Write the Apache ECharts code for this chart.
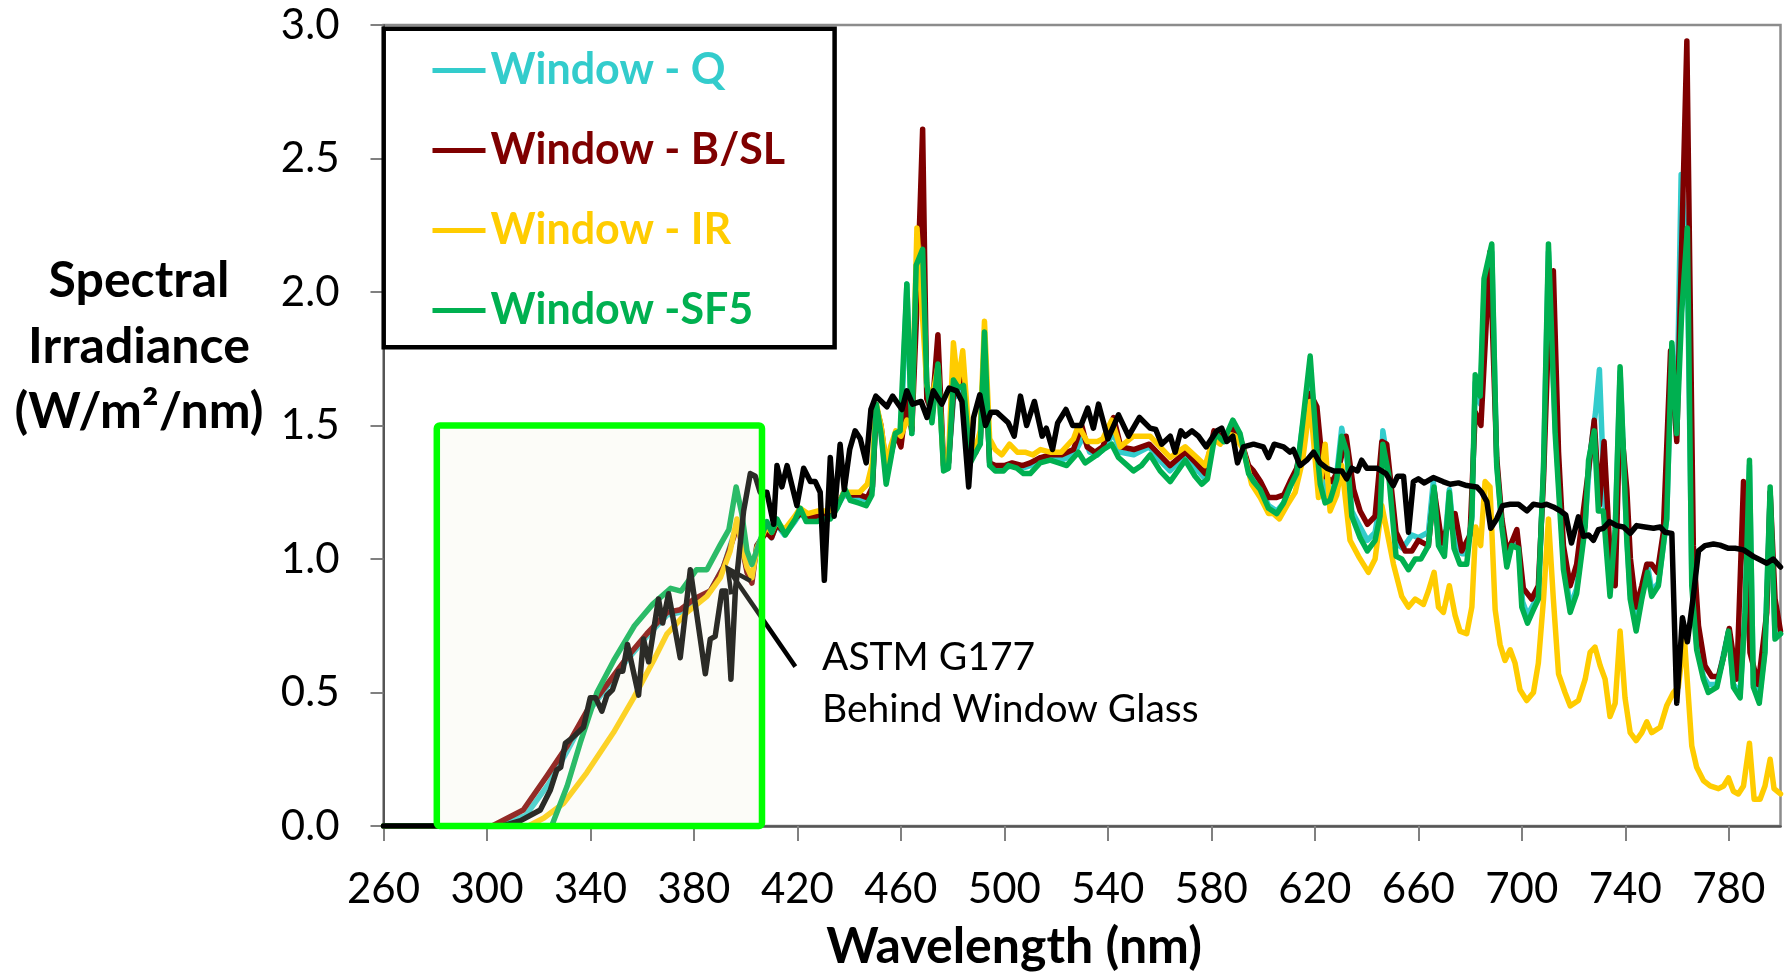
<!DOCTYPE html>
<html>
<head>
<meta charset="utf-8">
<script src="https://cdn.jsdelivr.net/npm/echarts@6/dist/echarts.min.js"></script>
<style>
  html, body { margin: 0; padding: 0; background: #ffffff; }
  #chart { width: 1785px; height: 976px; }
</style>
</head>
<body>
<div id="chart"></div>
<script>
// Spectral irradiance (W/m²/nm) versus wavelength (nm), pairs of [nm, value]

const windowQ = [[260,0],[304,0],[315,0.04],[324,0.16],[331,0.28],[338.6,0.42],[346.4,0.52],[354,0.62],[361.8,0.71],[369.6,0.79],[374.7,0.80],[380,0.84],[386.3,0.88],[391.4,0.97],[395.3,1.09],[397,1.14],[400.5,0.96],[402.4,0.92],[404.3,1.05],[408,1.11],[410,1.08],[412,1.13],[415,1.09],[419,1.14],[421,1.17],[424,1.15],[428,1.15],[432,1.16],[435,1.19],[438,1.24],[441,1.23],[444,1.23],[447,1.22],[449,1.26],[450.5,1.57],[452.3,1.48],[454.3,1.32],[456,1.38],[458,1.47],[460,1.46],[462.3,2.03],[464.2,1.47],[466,2.08],[468.4,2.14],[470,1.62],[472,1.53],[474.3,1.72],[476.5,1.34],[478.4,1.36],[480.3,1.60],[482,1.62],[484,1.64],[486.8,1.40],[489,1.42],[490.7,1.45],[492.3,1.82],[494.3,1.35],[496.5,1.34],[500,1.34],[503,1.35],[507,1.34],[510,1.35],[514,1.37],[517.7,1.38],[522,1.37],[526.7,1.39],[530.6,1.46],[533,1.40],[536,1.39],[538,1.41],[542.2,1.47],[545,1.40],[550,1.39],[556,1.42],[560,1.37],[564,1.33],[570,1.39],[574,1.34],[577.6,1.30],[581,1.47],[585,1.44],[588.3,1.50],[591,1.46],[594.4,1.34],[596.3,1.31],[599,1.27],[602.1,1.20],[605.3,1.18],[608,1.21],[610.4,1.27],[613,1.33],[615.3,1.50],[618.2,1.70],[620.8,1.45],[622.5,1.32],[624,1.24],[626.6,1.24],[628.5,1.32],[630.4,1.49],[632.4,1.38],[634.3,1.18],[637.5,1.12],[640.3,1.07],[643.3,1.10],[645,1.20],[646.3,1.48],[648.5,1.34],[651.4,1.06],[654,1.04],[657.5,1.09],[660,1.08],[663.9,1.10],[665.8,1.29],[667.8,1.08],[670.1,1.04],[672,1.26],[673.8,1.08],[676.8,1.02],[678.7,1.02],[680.7,1.15],[682,1.66],[684,1.58],[685.4,2.00],[688.4,2.15],[690.3,1.36],[692.3,1.13],[694.2,0.99],[696.1,1.06],[698.7,1.05],[700.3,0.84],[702.2,0.79],[704.5,0.83],[706.4,0.87],[708.4,1.33],[710.3,2.15],[712.9,1.50],[716.1,1.00],[718.7,0.82],[721.2,0.89],[724.5,1.14],[726.5,1.40],[728.5,1.55],[730,1.71],[731.8,1.25],[734.1,0.88],[736.1,1.10],[738,1.70],[740.6,1.08],[741.9,0.87],[744.2,0.76],[746.4,0.86],[748.6,0.98],[750.2,0.88],[752.8,0.91],[754.7,1.05],[756,1.15],[758,1.80],[759.8,1.46],[761.6,2.44],[764,2.10],[765.7,0.95],[767.6,0.68],[770.2,0.56],[772.1,0.53],[775.4,0.53],[777.9,0.64],[779.9,0.73],[781.8,0.53],[784.4,0.50],[786.3,0.80],[788,1.35],[789.5,0.53],[791.8,0.48],[794,0.66],[796,1.25],[797.9,0.71],[800,0.72]];

const windowBSL = [[260,0],[302,0],[314,0.06],[323,0.185],[331,0.30],[338.6,0.43],[346.4,0.53],[354,0.63],[361.8,0.72],[369.6,0.80],[374.7,0.81],[380,0.85],[386.3,0.88],[391.4,0.97],[395.3,1.08],[397,1.13],[400.5,0.95],[402.4,0.91],[404.3,1.05],[408,1.10],[410,1.08],[412,1.13],[415,1.10],[419,1.15],[421,1.17],[424,1.16],[428,1.16],[432,1.17],[435,1.19],[438,1.25],[441,1.24],[444,1.24],[447,1.23],[449,1.27],[450.5,1.57],[452.3,1.50],[454.3,1.35],[456,1.39],[458,1.47],[460,1.42],[462.3,1.60],[464.2,1.48],[466,1.90],[468.4,2.61],[470,1.60],[472,1.55],[474.3,1.84],[476.5,1.35],[478.4,1.36],[480.3,1.62],[482,1.65],[483.6,1.71],[486.8,1.38],[489,1.40],[490.7,1.45],[492.3,1.80],[494.3,1.36],[496.5,1.35],[500,1.35],[503,1.36],[507,1.35],[510,1.36],[514,1.38],[517.7,1.39],[522,1.39],[526.7,1.41],[529.9,1.50],[532,1.42],[535,1.40],[538,1.42],[542.2,1.53],[545,1.42],[550,1.41],[556,1.43],[560,1.39],[564,1.35],[570,1.40],[574,1.36],[577.6,1.32],[581,1.48],[585,1.45],[588.3,1.49],[591,1.46],[594.4,1.35],[596.3,1.33],[599,1.29],[602.1,1.23],[605,1.23],[608,1.24],[610.4,1.29],[613,1.34],[615.3,1.45],[618.2,1.62],[620.8,1.57],[622.5,1.40],[624,1.31],[626.6,1.29],[629,1.33],[632.1,1.46],[635,1.26],[637.5,1.18],[640.3,1.13],[643.3,1.16],[645.9,1.44],[647.8,1.43],[651.4,1.10],[654.9,1.03],[657.5,1.03],[660,1.07],[663.9,1.05],[666.1,1.26],[669.1,1.06],[672,1.14],[674.2,1.17],[676.8,1.03],[680,1.09],[682,1.55],[684.2,1.50],[687.7,2.15],[690.3,1.38],[692.3,1.15],[694.2,1.03],[696,1.06],[698.1,1.11],[700.6,0.89],[703.8,0.85],[706.4,0.90],[708.4,1.30],[710.5,1.90],[712.2,2.08],[714.2,1.40],[716.1,1.05],[718.7,0.90],[721.2,0.98],[723.8,1.18],[726,1.35],[728,1.52],[730,1.20],[731.8,1.44],[734.1,1.02],[736.1,0.90],[738,1.55],[740.6,1.26],[742,1.00],[744.2,0.82],[746.4,0.90],[748.3,0.98],[750.2,0.98],[752.4,0.95],[754.7,1.10],[757.5,1.78],[759.9,1.44],[763.8,2.94],[766.3,1.05],[768.3,0.75],[770.8,0.60],[773.4,0.56],[776,0.56],[777.9,0.63],[780.2,0.74],[783.1,0.55],[785.7,1.29],[788.2,0.65],[791.4,0.53],[794.7,0.80],[796,1.25],[797.9,0.85],[800,0.73]];

const windowIR = [[260,0],[316,0],[322,0.03],[329.6,0.085],[338.6,0.20],[348.9,0.35],[356.7,0.48],[364.4,0.62],[369.6,0.72],[377.3,0.80],[385,0.86],[390.2,0.93],[394,1.03],[396.6,1.15],[398.5,1.05],[400.5,0.97],[402.4,0.93],[404.3,1.04],[408,1.12],[410,1.10],[412,1.14],[415,1.11],[419,1.16],[421,1.19],[424,1.17],[428,1.18],[432,1.18],[435,1.19],[438,1.25],[441,1.25],[444,1.25],[447,1.28],[449,1.36],[450.5,1.58],[452.3,1.50],[454.3,1.36],[456,1.42],[458,1.48],[460,1.46],[462.3,1.52],[464.2,1.50],[466.2,2.24],[468.4,1.90],[470,1.65],[472,1.60],[474.3,1.72],[476.5,1.35],[478.4,1.38],[480.3,1.81],[482,1.65],[483.9,1.78],[486.8,1.40],[489,1.42],[490.7,1.48],[492.3,1.89],[494.3,1.45],[496.5,1.41],[499,1.39],[502,1.43],[505,1.40],[508,1.40],[511,1.39],[514,1.41],[517.7,1.40],[522,1.40],[526.7,1.45],[528.6,1.50],[532,1.44],[536,1.44],[538,1.45],[541.5,1.52],[544.75,1.42],[549.9,1.46],[556.3,1.46],[560.2,1.42],[564.1,1.38],[569.9,1.42],[574.4,1.38],[577.6,1.35],[580.8,1.45],[583.4,1.43],[586,1.47],[589.2,1.46],[592.4,1.41],[595.6,1.28],[598.9,1.23],[602.1,1.17],[604,1.17],[606.3,1.15],[609.2,1.20],[612.4,1.25],[615.3,1.37],[618.2,1.59],[621.4,1.23],[624,1.43],[625.9,1.18],[628.5,1.24],[630.4,1.35],[633.6,1.07],[636.9,1.01],[640.7,0.95],[643.3,1.00],[645.9,1.20],[650.4,0.98],[653.6,0.86],[656.2,0.82],[658.8,0.85],[662,0.83],[663.9,0.88],[666.1,0.95],[667.8,0.82],[669.7,0.80],[672,0.90],[674.2,0.79],[676.1,0.73],[678.7,0.72],[680.7,0.82],[682.2,1.12],[684.1,1.05],[685.8,1.29],[687.7,1.27],[689.7,0.81],[691.6,0.68],[693.5,0.62],[695.5,0.66],[697.4,0.61],[699.3,0.51],[701.9,0.47],[704.5,0.50],[706.4,0.61],[708.4,0.85],[710.3,1.15],[712.2,0.85],[714.2,0.57],[716.7,0.50],[718.7,0.45],[721.9,0.47],[724.5,0.55],[726.4,0.65],[728.3,0.67],[730.3,0.60],[732.2,0.55],[734.1,0.41],[736.1,0.46],[738,0.73],[739.9,0.48],[741.9,0.35],[744.2,0.32],[746.4,0.35],[748.3,0.39],[750.2,0.35],[753.5,0.37],[756,0.45],[758.6,0.50],[760.5,0.52],[762.8,0.71],[765.7,0.30],[767.6,0.22],[770.2,0.17],[772.8,0.15],[776,0.14],[778,0.15],[779.9,0.18],[781.8,0.13],[783.7,0.12],[785.7,0.15],[788,0.31],[789.8,0.10],[792.1,0.10],[794,0.15],[796,0.25],[797.5,0.14],[800,0.12]];

const windowSF5 = [[260,0],[325,0],[331,0.15],[336,0.31],[342.5,0.50],[349,0.62],[357,0.75],[364,0.83],[371,0.89],[375,0.88],[381,0.96],[385,0.96],[390,1.05],[393.5,1.11],[396.3,1.27],[398.5,1.17],[400.5,1.03],[402.4,0.98],[405.6,1.07],[408.2,1.14],[410.1,1.10],[412.1,1.15],[415.3,1.09],[419.2,1.15],[421.1,1.19],[423.4,1.14],[427.5,1.14],[430,1.15],[432.7,1.15],[435.3,1.19],[438.5,1.26],[440.4,1.22],[443.6,1.21],[446.6,1.20],[448.8,1.24],[450.5,1.58],[452.3,1.47],[454.3,1.28],[456,1.37],[457.8,1.47],[459.7,1.48],[462.3,2.03],[464.2,1.47],[465.9,2.10],[468.4,2.16],[470,1.66],[472,1.51],[474.3,1.73],[476.5,1.33],[478.4,1.34],[480.3,1.67],[482.3,1.64],[484.2,1.65],[486.8,1.36],[489,1.40],[490.7,1.43],[492.3,1.85],[494.3,1.35],[496.5,1.33],[499.7,1.33],[501.6,1.35],[504.8,1.34],[507.4,1.32],[510,1.32],[513.8,1.36],[517.7,1.37],[521,1.36],[524.1,1.35],[528.6,1.40],[531.2,1.36],[535.7,1.39],[538.3,1.41],[541.5,1.43],[544.1,1.38],[549.9,1.33],[553,1.35],[556.3,1.39],[560.2,1.33],[564.1,1.29],[569.9,1.37],[573.7,1.31],[576.3,1.28],[578.5,1.30],[581.5,1.47],[584.7,1.44],[588.3,1.52],[591.1,1.47],[594.4,1.32],[596.3,1.29],[598.9,1.26],[602.1,1.19],[605.3,1.17],[607.9,1.21],[610.4,1.27],[613,1.32],[615.3,1.51],[618.2,1.76],[620.8,1.41],[622.1,1.28],[624,1.21],[625.9,1.22],[628.5,1.30],[630.4,1.46],[632.4,1.40],[634.3,1.16],[637.5,1.08],[640.3,1.03],[643.3,1.07],[645.2,1.16],[646.3,1.43],[648.5,1.32],[651.4,1.01],[653.6,1.00],[656.2,0.96],[658.8,1.00],[661,1.00],[663.9,1.05],[666.1,1.27],[667.8,1.05],[670.1,1.01],[672,1.25],[673.8,1.04],[676.1,0.98],[678.7,0.98],[680.7,1.16],[682,1.69],[683.9,1.61],[685.4,2.05],[688.4,2.18],[690.3,1.35],[692.3,1.12],[694.2,0.97],[696.1,1.05],[698.7,1.04],[700,0.82],[702.2,0.76],[704.5,0.81],[706.4,0.85],[708.4,1.35],[710.3,2.18],[712.9,1.47],[716.1,0.96],[718.7,0.80],[721.2,0.87],[724.5,1.12],[725.8,1.37],[728,1.48],[729.6,1.18],[731.5,1.18],[734.1,0.86],[736.1,1.11],[738,1.72],[740.6,1.07],[741.9,0.85],[744.2,0.73],[746.4,0.85],[748.6,0.95],[750.2,0.86],[752.8,0.90],[754.7,1.05],[756,1.15],[758,1.81],[759.9,1.47],[761.8,1.92],[764,2.24],[765.7,0.90],[767.6,0.66],[770.2,0.55],[772.1,0.50],[775.4,0.52],[777.9,0.63],[779.9,0.73],[781.8,0.52],[784.4,0.48],[786.3,0.80],[788,1.37],[789.5,0.52],[791.8,0.46],[794,0.65],[796,1.27],[797.9,0.70],[800,0.72]];

const astmG177 = [[260,0],[306,0],[313,0.02],[320.6,0.06],[324.5,0.135],[327,0.21],[328.5,0.22],[330.3,0.31],[333,0.33],[337.3,0.37],[339.9,0.48],[342,0.48],[344.4,0.43],[346.4,0.49],[348.5,0.51],[350.9,0.58],[352.5,0.58],[354.3,0.68],[358.6,0.49],[360.5,0.70],[362.5,0.615],[366.3,0.85],[367.9,0.76],[370.2,0.87],[374.7,0.63],[378.6,0.96],[384.4,0.57],[386.3,0.70],[388.2,0.71],[390.8,0.88],[392.3,0.88],[394.3,0.55],[396,0.88],[399.2,1.18],[401.8,1.32],[403.7,1.31],[405.6,1.25],[408.2,1.25],[410.8,1.13],[412.1,1.35],[414,1.27],[416,1.35],[419.8,1.20],[422.4,1.34],[425,1.29],[426.9,1.29],[428.8,1.25],[430.4,0.92],[432.7,1.38],[434.2,1.16],[436.5,1.43],[438.1,1.26],[440.2,1.41],[442.3,1.48],[444.3,1.45],[446.6,1.36],[448.4,1.56],[450.3,1.61],[454.6,1.57],[456.8,1.61],[460.4,1.56],[462.3,1.63],[464.5,1.58],[467.8,1.59],[470.1,1.53],[472.5,1.63],[475.8,1.58],[478.6,1.64],[481.5,1.63],[483.6,1.59],[486.2,1.27],[488.1,1.53],[490.5,1.615],[492.7,1.50],[494.8,1.55],[497,1.55],[499.3,1.53],[501.5,1.51],[503.8,1.46],[506.2,1.61],[508.6,1.50],[511.6,1.59],[514.6,1.46],[516.2,1.49],[518.6,1.41],[520.6,1.51],[523.8,1.56],[526.4,1.50],[529.6,1.50],[532.2,1.565],[534.4,1.49],[536.4,1.58],[540,1.45],[544.1,1.54],[548,1.46],[552.2,1.53],[556.3,1.49],[558.5,1.485],[560.8,1.43],[564.1,1.46],[566,1.40],[568.2,1.48],[569.9,1.46],[572.5,1.48],[575,1.46],[578,1.42],[582.1,1.48],[584,1.49],[586,1.44],[588.3,1.46],[590.1,1.36],[592.4,1.42],[596.3,1.43],[600.1,1.42],[602.1,1.38],[604.3,1.43],[607.9,1.42],[610.4,1.40],[611.7,1.41],[614.3,1.35],[616.9,1.37],[619.5,1.40],[622,1.36],[624.6,1.34],[627.2,1.33],[630.4,1.33],[632.3,1.30],[634.3,1.34],[636.5,1.33],[638.1,1.37],[640.1,1.34],[644,1.34],[647.5,1.32],[650.3,1.275],[652,1.31],[654.3,1.31],[656.2,1.10],[658.1,1.29],[660,1.30],[662.3,1.285],[665.8,1.305],[669.5,1.29],[672.3,1.28],[675.5,1.285],[678.7,1.275],[682.6,1.27],[684.5,1.25],[686.5,1.215],[688,1.115],[690.3,1.15],[692.6,1.20],[695.5,1.205],[698.7,1.205],[702,1.18],[704.5,1.205],[707.7,1.20],[709.6,1.205],[712.2,1.195],[715.2,1.178],[717,1.165],[719.2,1.06],[721.9,1.158],[723.8,1.085],[725.8,1.09],[727.7,1.07],[729.6,1.11],[731.5,1.115],[733.9,1.14],[736.7,1.125],[739.3,1.12],[741.9,1.096],[744.4,1.125],[747.6,1.12],[750.9,1.115],[753.5,1.12],[755.4,1.10],[758,1.096],[759.9,0.46],[762.1,0.78],[764,0.69],[766.3,0.86],[768.3,1.03],[770.8,1.05],[774.1,1.056],[776.6,1.052],[779.9,1.04],[782.5,1.04],[785.7,1.034],[789.5,1.01],[794.7,0.984],[797.2,1.00],[800,0.97]];

// Legend / series names and axis ticks
const seriesNames = ['Window - Q', 'Window - B/SL', 'Window - IR', 'Window -SF5'];
const seriesColors = ['#33CCCC', '#7F0000', '#FFCC00', '#00B050'];
const xTickStart = 260, xTickEnd = 800, xTickStep = 40;
const yTickStart = 0, yTickEnd = 3, yTickStep = 0.5;

// Highlighted UV band and the annotation arrow, in data units
const uvBand = { x0: 280.6, x1: 406.3, y0: 0, y1: 1.5 };
const arrowTail = [419.2, 0.597];
const arrowTip = [393.1, 0.964];

const FONT = 'Lato, "Open Sans", sans-serif';

const lampSeries = [windowQ, windowBSL, windowIR, windowSF5].map((d, i) => ({
  name: seriesNames[i],
  type: 'line',
  data: d,
  showSymbol: false,
  symbol: 'none',
  z: 2 + i * 0.1,
  lineStyle: { color: seriesColors[i], width: 5.5, join: 'round', cap: 'round' },
  itemStyle: { color: seriesColors[i] },
  animation: false
}));

const option = {
  animation: false,
  backgroundColor: '#ffffff',
  textStyle: { fontFamily: FONT },
  grid: {
    left: 383.5, right: 4.5, top: 25, bottom: 150,
    show: true, borderColor: '#8c8c8c', borderWidth: 2.5,
    containLabel: false, outerBoundsMode: 'none'
  },
  legend: {
    orient: 'vertical',
    left: 427.5, top: 44,
    icon: 'rect',
    itemWidth: 53, itemHeight: 5,
    itemGap: 37,
    selectedMode: false,
    textStyle: { fontFamily: FONT, fontSize: 43, fontWeight: 'bold', lineHeight: 43 },
    data: seriesNames.map((n, i) => ({ name: n, textStyle: { color: seriesColors[i] } }))
  },
  xAxis: {
    type: 'value',
    min: xTickStart, max: xTickEnd, interval: xTickStep,
    splitLine: { show: false },
    axisLine: { show: true, onZero: false, lineStyle: { color: '#555555', width: 2.5 } },
    axisTick: { show: true, inside: false, length: 15, lineStyle: { color: '#808080', width: 2 } },
    axisLabel: { showMaxLabel: false, margin: 42, color: '#000', fontSize: 42, fontFamily: FONT }
  },
  yAxis: {
    type: 'value',
    min: yTickStart, max: yTickEnd, interval: yTickStep,
    splitLine: { show: false },
    axisLine: { show: true, lineStyle: { color: '#555555', width: 2 } },
    axisTick: { show: true, inside: false, length: 13, lineStyle: { color: '#808080', width: 2 } },
    axisLabel: { margin: 44, color: '#000', fontSize: 42, fontFamily: FONT,
                 formatter: v => v.toFixed(1) }
  },
  series: lampSeries.concat([{
    name: 'ASTM G177 Behind Window Glass',
    type: 'line',
    data: astmG177,
    showSymbol: false,
    symbol: 'none',
    z: 3,
    lineStyle: { color: '#000000', width: 5.5, join: 'round', cap: 'round' },
    itemStyle: { color: '#000000' },
    animation: false
  }])
};

const chart = echarts.init(document.getElementById('chart'), null, { renderer: 'canvas' });
chart.setOption(option);

// Annotation shapes placed through the chart's own coordinate conversion
const toPx = (pt) => chart.convertToPixel({ gridIndex: 0 }, pt);
const bTL = toPx([uvBand.x0, uvBand.y1]);
const bBR = toPx([uvBand.x1, uvBand.y0]);
const tip = toPx(arrowTip);
const tail = toPx(arrowTail);
const dx = tail[0] - tip[0], dy = tail[1] - tip[1];
const len = Math.hypot(dx, dy);
const ux = dx / len, uy = dy / len;
const wing = (ang) => {
  const c = Math.cos(ang), s = Math.sin(ang);
  return [tip[0] + 26 * (ux * c - uy * s), tip[1] + 26 * (ux * s + uy * c)];
};
const a = 27 * Math.PI / 180;

const textStyle = (text, font, align) => ({
  text, font, fill: '#000000',
  textAlign: align, textVerticalAlign: 'middle', align, verticalAlign: 'middle'
});

chart.setOption({
  graphic: [
    // legend frame
    { type: 'rect', z: 120, silent: true,
      shape: { x: 383.7, y: 28.8, width: 450.9, height: 318.4 },
      style: { fill: 'rgba(255,255,255,0)', stroke: '#000000', lineWidth: 4.5 } },
    // pointer from the label to the reference spectrum
    { type: 'polyline', z: 50, silent: true,
      shape: { points: [tail, tip] },
      style: { stroke: '#000000', lineWidth: 4.5, fill: null, lineCap: 'butt' } },
    { type: 'polyline', z: 50, silent: true,
      shape: { points: [wing(a), tip, wing(-a)] },
      style: { stroke: '#000000', lineWidth: 4.5, fill: null, lineJoin: 'miter' } },
    // UV band highlight box
    { type: 'rect', z: 100, silent: true,
      shape: { x: bTL[0], y: bTL[1], width: bBR[0] - bTL[0], height: bBR[1] - bTL[1], r: 3 },
      style: { fill: 'rgba(240,240,215,0.18)', stroke: '#00FF00', lineWidth: 6.5 } },
    // annotation label
    { type: 'text', z: 110, silent: true, x: 822, y: 657, style: textStyle('ASTM G177', '39px ' + FONT, 'left') },
    { type: 'text', z: 110, silent: true, x: 822, y: 709, style: textStyle('Behind Window Glass', '39px ' + FONT, 'left') },
    // axis titles
    { type: 'text', z: 110, silent: true, x: 1014, y: 947, style: textStyle('Wavelength (nm)', 'bold 50px ' + FONT, 'center') },
    { type: 'text', z: 110, silent: true, x: 139, y: 281, style: textStyle('Spectral', 'bold 50px ' + FONT, 'center') },
    { type: 'text', z: 110, silent: true, x: 139, y: 347, style: textStyle('Irradiance', 'bold 50px ' + FONT, 'center') },
    { type: 'text', z: 110, silent: true, x: 139, y: 412, style: textStyle('(W/m²/nm)', 'bold 50px ' + FONT, 'center') }
  ]
});
</script>
</body>
</html>
